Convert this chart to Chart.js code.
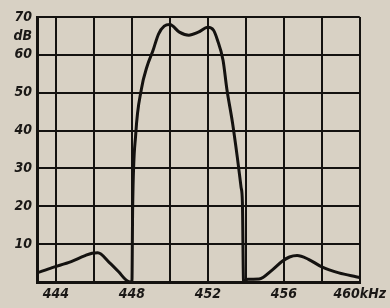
<!DOCTYPE html>
<html>
<head>
<meta charset="utf-8">
<script src="https://cdn.jsdelivr.net/npm/chart.js@4"></script>
<style>
    html, body { margin: 0; padding: 0; background: #d8d1c4; }
    #wrap { width: 390px; height: 308px; }
</style>
</head>
<body>
<div id="wrap"><canvas id="filterChart" width="390" height="308"></canvas></div>
<script>
// Frequency (kHz) and attenuation (dB)
const freqs = [443, 443.8, 444.8, 445.5, 445.9, 446.2, 446.8, 447.3, 447.7, 447.95, 448.0, 448.04,
    448.2, 448.5, 448.8, 449.1, 449.4, 449.7, 450.0, 450.5, 451.0, 451.5, 452.0, 452.3, 452.5,
    452.8, 453.0, 453.3, 453.55, 453.75, 453.82, 453.88, 454.1, 454.7, 455.4, 455.9, 456.3, 456.7,
    457.3, 458.0, 458.9, 459.8, 460];
const levels = [2.4, 3.8, 5.4, 6.9, 7.6, 7.7, 5.2, 2.7, 0.5, 0, 0, 20,
    39, 51, 57, 61, 65.5, 67.6, 68, 66, 65.2, 66, 67.3, 66.5, 64,
    58.6, 51, 42, 33, 25, 21, 0, 0.7, 0.8, 3.2, 5.4, 6.6, 7,
    6, 4, 2.4, 1.4, 1.2];

const xTicks = [444, 446, 448, 450, 452, 454, 456, 458, 460];
const xLabels = { 444: '444', 448: '448', 452: '452', 456: '456', 460: '460kHz' };
const yTicks = [0, 10, 20, 30, 40, 50, 60, 65, 70];
const yLabels = { 10: '10', 20: '20', 30: '30', 40: '40', 50: '50', 60: '60', 65: 'dB', 70: '70' };

const labelFont = { family: "'Liberation Sans Narrow', 'DejaVu Sans Condensed', 'DejaVu Sans'", size: 14, style: 'italic', weight: 'bold' };

new Chart(document.getElementById('filterChart'), {
    type: 'line',
    data: {
        datasets: [{
            data: freqs.map((f, i) => ({ x: f, y: levels[i] })),
            borderColor: '#141210',
            borderWidth: 3,
            pointRadius: 0,
            cubicInterpolationMode: 'monotone',
            fill: false
        }]
    },
    options: {
        responsive: false,
        animation: false,
        layout: { padding: { top: 17, right: 30, bottom: 6, left: 0 } },
        plugins: { legend: { display: false }, tooltip: { enabled: false } },
        scales: {
            x: {
                type: 'linear',
                min: 443,
                max: 460,
                afterBuildTicks: s => { s.ticks = xTicks.map(v => ({ value: v })); },
                afterFit: s => { s.height = 20; },
                grid: { color: '#141210', lineWidth: 2, drawTicks: false },
                border: { color: '#141210', width: 3 },
                ticks: {
                    color: '#1a1816',
                    font: labelFont,
                    padding: 4,
                    maxRotation: 0,
                    autoSkip: false,
                    callback: v => xLabels[v] || ''
                }
            },
            y: {
                min: 0,
                max: 70,
                afterBuildTicks: s => { s.ticks = yTicks.map(v => ({ value: v })); },
                afterFit: s => { s.width = 37; },
                grid: {
                    color: c => (c.tick && c.tick.value === 65) ? 'rgba(0,0,0,0)' : '#141210',
                    lineWidth: 2,
                    drawTicks: false
                },
                border: { color: '#141210', width: 3 },
                ticks: {
                    color: '#1a1816',
                    font: labelFont,
                    padding: 5,
                    autoSkip: false,
                    callback: v => yLabels[v] || ''
                }
            }
        }
    }
});
</script>
</body>
</html>
